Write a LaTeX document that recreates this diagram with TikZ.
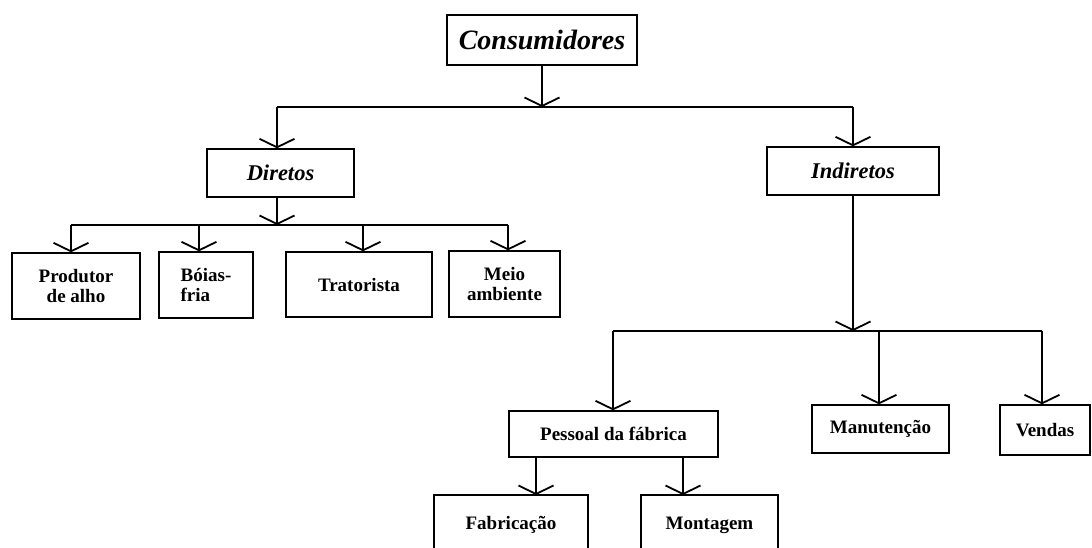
\documentclass[tikz,border=0pt]{standalone}
\usepackage{fontspec}
\setmainfont{Liberation Serif}
\usetikzlibrary{arrows.meta}
\tikzset{
  ln/.style={line width=1.4pt},
  arr/.style={ln, -{Straight Barb[length=8.5pt,width=35pt,line width=1.8pt]}},
  box/.style={draw, line width=1.4pt, inner sep=0pt, align=center,
    font=\bfseries\fontsize{19}{20.5}\selectfont},
  topbox/.style={box, font=\bfseries\itshape\fontsize{28}{30}\selectfont},
  midbox/.style={box, font=\bfseries\itshape\fontsize{22.5}{24}\selectfont},
}
\begin{document}
\begin{tikzpicture}[x=1pt,y=-1pt]
\useasboundingbox (0,0) rectangle (1092,547);
\clip (0,0) rectangle (1092,547);
% nodes
\node[topbox, minimum width=190pt, minimum height=50pt] (cons) at (542,40) {Consumidores};
\node[midbox, minimum width=147pt, minimum height=48pt] (dir) at (280.5,173) {Diretos};
\node[midbox, minimum width=172pt, minimum height=48pt] (ind) at (853,171) {Indiretos};
\node[box, minimum width=128pt, minimum height=66pt] (prod) at (76,286) {Produtor\\de alho};
\node[box, minimum width=94pt, minimum height=66pt, align=left] (boias) at (206,285) {Bóias-\\fria};
\node[box, minimum width=146pt, minimum height=65pt] (trat) at (359,284.5) {Tratorista};
\node[box, minimum width=111pt, minimum height=66pt] (meio) at (504.5,284) {Meio\\ambiente};
\node[box, minimum width=209pt, minimum height=46pt] (pes) at (613.5,434) {Pessoal da fábrica};
\node[box, minimum width=137pt, minimum height=48pt] (man) at (880.5,429) {Manutenção};
\node[box, minimum width=90pt, minimum height=50pt] (ven) at (1045,430) {Vendas};
\node[box, minimum width=154pt, text height=34pt, text depth=80pt, anchor=base] (fab) at (511,529) {Fabricação};
\node[box, minimum width=137pt, text height=34pt, text depth=80pt, anchor=base] (mon) at (709.5,529) {Montagem};
% level 1
\coordinate (j1) at (542,107);
\coordinate (j1l) at (277,107);
\coordinate (j1r) at (853,107);
\draw[ln] (j1l) -- (j1r);
\draw[arr] (cons.south) -- (j1);
\draw[arr] (j1l) -- (j1l |- dir.north);
\draw[arr] (j1r) -- (j1r |- ind.north);
% Diretos
\coordinate (j2) at (277,225);
\coordinate (j2a) at (71,225);
\coordinate (j2b) at (199,225);
\coordinate (j2c) at (363,225);
\coordinate (j2d) at (508,225);
\draw[ln] (j2a) -- (j2d);
\draw[arr] (j2 |- dir.south) -- (j2);
\draw[arr] (j2a) -- (j2a |- prod.north);
\draw[arr] (j2b) -- (j2b |- boias.north);
\draw[arr] (j2c) -- (j2c |- trat.north);
\draw[arr] (j2d) -- (j2d |- meio.north);
% Indiretos
\coordinate (j3) at (853,331);
\coordinate (j3a) at (613,331);
\coordinate (j3b) at (879,331);
\coordinate (j3c) at (1042,331);
\draw[ln] (j3a) -- (j3c);
\draw[arr] (ind.south) -- (j3);
\draw[arr] (j3a) -- (j3a |- pes.north);
\draw[arr] (j3b) -- (j3b |- man.north);
\draw[arr] (j3c) -- (j3c |- ven.north);
% Pessoal
\coordinate (fx) at (536,495);
\coordinate (mx) at (683,495);
\draw[arr] (pes.south -| fx) -- (fx);
\draw[arr] (pes.south -| mx) -- (mx);
\end{tikzpicture}
\end{document}
